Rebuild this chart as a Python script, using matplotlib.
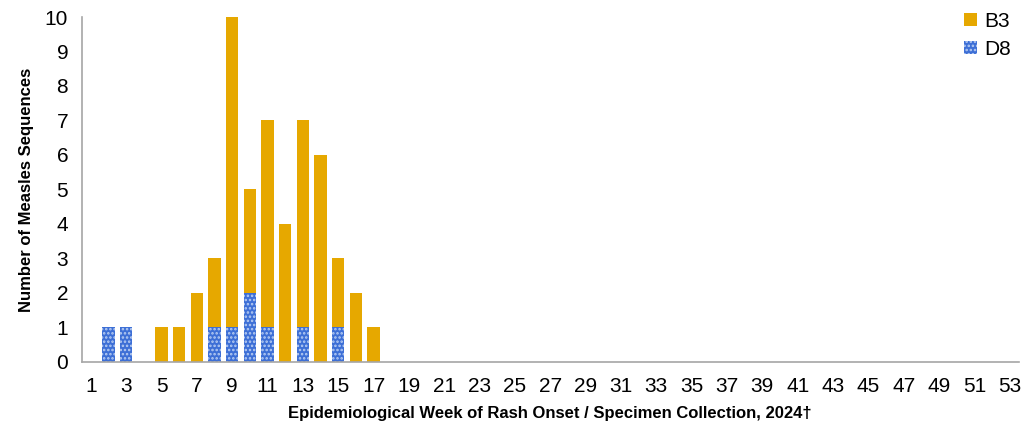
import matplotlib.pyplot as plt
from matplotlib.patches import Patch

plt.rcParams['font.family'] = ['Liberation Sans', 'DejaVu Sans']
plt.rcParams['hatch.linewidth'] = 1.2

# weekly counts by genotype, 2024
weeks = list(range(1, 54))
d8 = [0, 1, 1, 0, 0, 0, 0, 1, 1, 2, 1, 0, 1, 0, 1, 0, 0] + [0] * 36
b3 = [0, 0, 0, 0, 1, 1, 2, 2, 9, 3, 6, 4, 6, 6, 2, 2, 1] + [0] * 36
tick_weeks = list(range(1, 54, 2))

b3_color = '#E6A800'
d8_color = '#3D6FD6'

fig = plt.figure(figsize=(10.28, 4.36), dpi=100)
ax = fig.add_axes([0.0798, 0.170, 0.911, 0.791])

ax.bar(weeks, d8, width=0.7, color=d8_color, edgecolor='#B8CDF2',
       hatch='....', linewidth=0)
ax.bar(weeks, b3, width=0.7, bottom=d8, color=b3_color, linewidth=0)

ax.set_xlim(0.5, 53.5)
ax.set_ylim(0, 10)
ax.set_yticks(range(0, 11))
ax.set_xticks(tick_weeks)
ax.tick_params(axis='both', length=0, labelsize=15)
ax.tick_params(axis='y', pad=10)
ax.tick_params(axis='x', pad=11)

for side in ['top', 'right']:
    ax.spines[side].set_visible(False)
for side in ['left', 'bottom']:
    ax.spines[side].set_color('#A6A6A6')
    ax.spines[side].set_linewidth(1.2)

ax.set_ylabel('Number of Measles Sequences', fontsize=12, fontweight='bold', labelpad=8)
ax.set_xlabel('Epidemiological Week of Rash Onset / Specimen Collection, 2024\u2020',
              fontsize=12, fontweight='bold', labelpad=7)

handles = [Patch(facecolor=b3_color, linewidth=0, label='B3'),
           Patch(facecolor=d8_color, edgecolor='#B8CDF2', hatch='....', linewidth=0, label='D8')]
ax.legend(handles=handles, loc='upper right', bbox_to_anchor=(1.012, 1.07), frameon=False,
          fontsize=15, handlelength=0.6, handleheight=0.6, handletextpad=0.35,
          labelspacing=0.45)

fig.savefig('out.png', dpi=100)
